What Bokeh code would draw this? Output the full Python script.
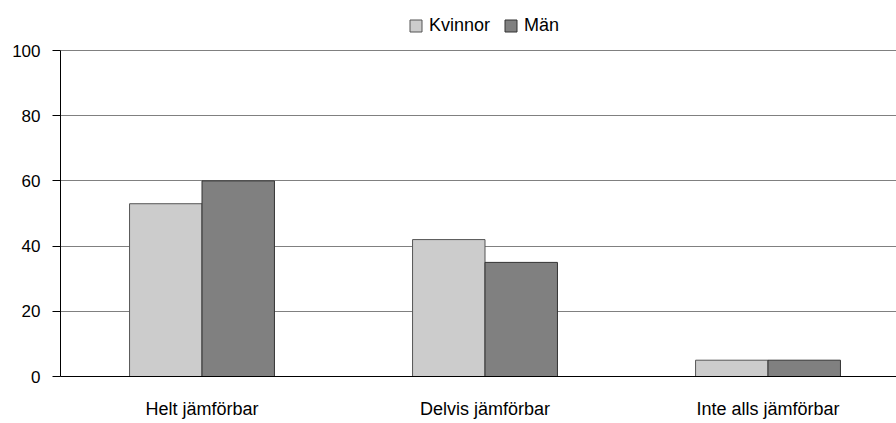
from bokeh.plotting import figure
from bokeh.models import ColumnDataSource, Range1d, FixedTicker, Legend, LegendItem
from bokeh.embed import file_html
from bokeh.resources import INLINE

categories = ["Helt jämförbar", "Delvis jämförbar", "Inte alls jämförbar"]
series_names = ["Kvinnor", "Män"]
kvinnor = [53, 42, 5]
man = [60, 35, 5]
y_ticks = [0, 20, 40, 60, 80, 100]

FONT = "Liberation Sans"
bar_w = 0.256
xs = list(range(len(categories)))

# frame spans the full height above the axis so the legend (drawn inside the frame) is visible;
# axis line and gridlines are bounded to 0..100
y_top = 100 * 376 / 326

p = figure(width=896, height=423, output_backend="svg", toolbar_location=None,
           x_range=Range1d(-0.5, 2.454), y_range=Range1d(0, y_top),
           min_border_left=60, min_border_top=0, min_border_bottom=47, min_border_right=0)
p.outline_line_color = None

src_k = ColumnDataSource(dict(x=[x - bar_w / 2 for x in xs], top=kvinnor))
src_m = ColumnDataSource(dict(x=[x + bar_w / 2 for x in xs], top=man))
rk = p.vbar(x="x", top="top", width=bar_w, bottom=0, source=src_k,
            fill_color="#cccccc", line_color="#555555", line_width=1)
rm = p.vbar(x="x", top="top", width=bar_w, bottom=0, source=src_m,
            fill_color="#808080", line_color="#333333", line_width=1)

p.xgrid.grid_line_color = None
p.ygrid.grid_line_color = "#808080"
p.ygrid.grid_line_width = 1
p.ygrid.ticker = FixedTicker(ticks=y_ticks)
p.ygrid.bounds = (0, 100)

p.yaxis.ticker = FixedTicker(ticks=y_ticks)
p.yaxis.bounds = (0, 100)
p.yaxis.axis_line_color = "black"
p.yaxis.major_tick_out = 8
p.yaxis.major_tick_in = 0
p.yaxis.minor_tick_line_color = None
p.yaxis.major_tick_line_color = "black"
p.yaxis.major_label_text_font = FONT
p.yaxis.major_label_text_font_size = "17px"
p.yaxis.major_label_text_color = "black"
p.yaxis.major_label_standoff = 12

p.xaxis.ticker = FixedTicker(ticks=xs)
p.xaxis.major_label_overrides = {i: c for i, c in enumerate(categories)}
p.xaxis.axis_line_color = "black"
p.xaxis.major_tick_line_color = None
p.xaxis.minor_tick_line_color = None
p.xaxis.major_tick_out = 0
p.xaxis.major_tick_in = 0
p.xaxis.major_label_text_font = FONT
p.xaxis.major_label_text_font_size = "18px"
p.xaxis.major_label_text_color = "black"
p.xaxis.major_label_standoff = 22

legend = Legend(items=[LegendItem(label=series_names[0], renderers=[rk]),
                       LegendItem(label=series_names[1], renderers=[rm])],
                location=(348, 340), orientation="horizontal",
                glyph_width=15, glyph_height=15, label_standoff=6, spacing=13,
                padding=0, margin=0, border_line_color=None, background_fill_alpha=0,
                label_text_font=FONT, label_text_font_size="18px", label_text_color="black")
p.add_layout(legend, "center")

open("out.html", "w").write(file_html(p, INLINE))
